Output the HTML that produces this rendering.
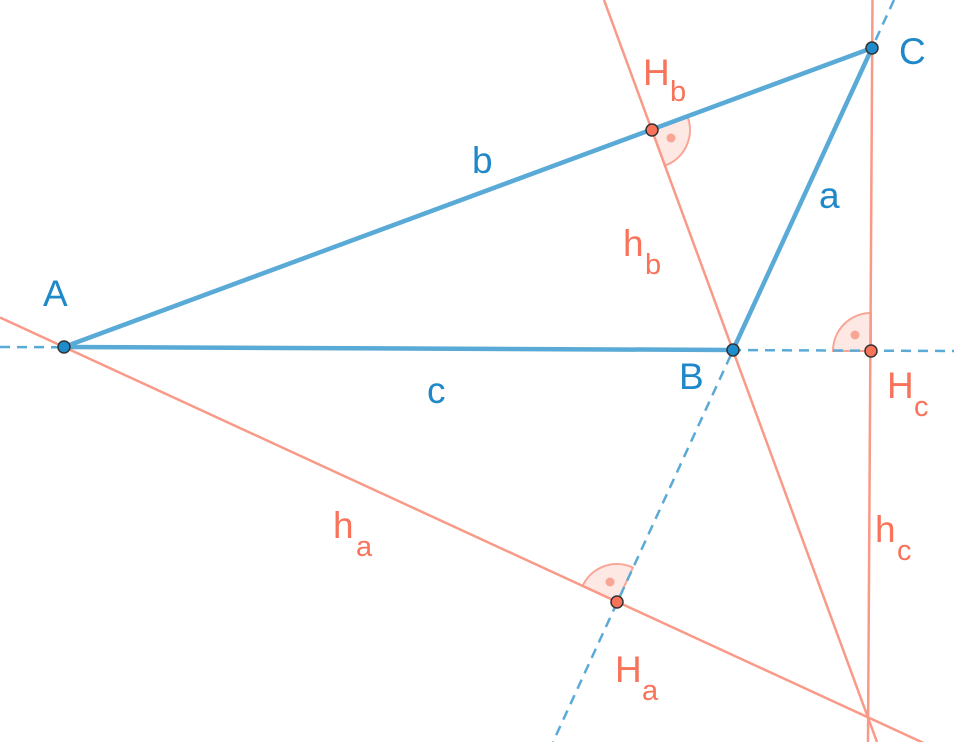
<!DOCTYPE html>
<html><head><meta charset="utf-8"><style>
html,body{margin:0;padding:0;background:#fff;}
svg{display:block;}
text{font-family:"Liberation Sans",sans-serif;}
</style></head><body>
<svg width="954" height="742" viewBox="0 0 954 742" xmlns="http://www.w3.org/2000/svg">
<g fill="#fde8e3" stroke="#f9a595" stroke-width="2">
<path d="M871,351 L833,351 A38,38 0 0,1 871,313 Z"/>
<path d="M652,130 L687.6,116.7 A38,38 0 0,1 665.1,165.6 Z"/>
<path d="M617,602 L582.5,586.1 A38,38 0 0,1 632.9,567.5 Z"/>
</g>
<g fill="#f9a595">
<circle cx="855" cy="335" r="4.5"/>
<circle cx="671" cy="138" r="4.5"/>
<circle cx="610" cy="582" r="4.5"/>
</g>
<g stroke="#f99a88" stroke-width="2.5" fill="none">
<line x1="0" y1="317.5" x2="954" y2="757"/>
<line x1="604" y1="0" x2="877" y2="742"/>
<line x1="872.5" y1="0" x2="868" y2="742"/>
</g>
<g stroke="#5aaad8" stroke-width="2.5" stroke-dasharray="10,7" fill="none">
<line x1="0" y1="347" x2="954" y2="351"/>
<line x1="894" y1="0" x2="553" y2="742"/>
</g>
<g stroke="#5aaad8" stroke-width="4.5" fill="none" stroke-linecap="round">
<line x1="64" y1="347" x2="733" y2="350"/>
<line x1="733" y1="350" x2="872" y2="48"/>
<line x1="872" y1="48" x2="64" y2="347"/>
</g>
<g stroke="#333" stroke-width="1.5">
<circle cx="64" cy="347" r="6" fill="#1f8ccc"/>
<circle cx="733" cy="350" r="6" fill="#1f8ccc"/>
<circle cx="872" cy="48" r="6" fill="#1f8ccc"/>
<circle cx="652" cy="130" r="6" fill="#f8735a"/>
<circle cx="871" cy="351" r="6" fill="#f8735a"/>
<circle cx="617" cy="602" r="6" fill="#f8735a"/>
</g>
<g fill="#1f88c8" font-size="37">
<text x="43" y="306">A</text>
<text x="899" y="64">C</text>
<text x="679" y="389">B</text>
<text x="472" y="173">b</text>
<text x="819" y="208">a</text>
<text x="427" y="403">c</text>
</g>
<g fill="#f8735a" font-size="37">
<text x="643" y="85">H</text><text x="670" y="101" font-size="29">b</text>
<text x="623" y="256">h</text><text x="645" y="274" font-size="29">b</text>
<text x="887" y="398">H</text><text x="914" y="416" font-size="29">c</text>
<text x="333" y="538">h</text><text x="356" y="556" font-size="29">a</text>
<text x="875" y="542">h</text><text x="897" y="560" font-size="29">c</text>
<text x="615" y="682">H</text><text x="642" y="700" font-size="29">a</text>
</g>
</svg>
</body></html>
